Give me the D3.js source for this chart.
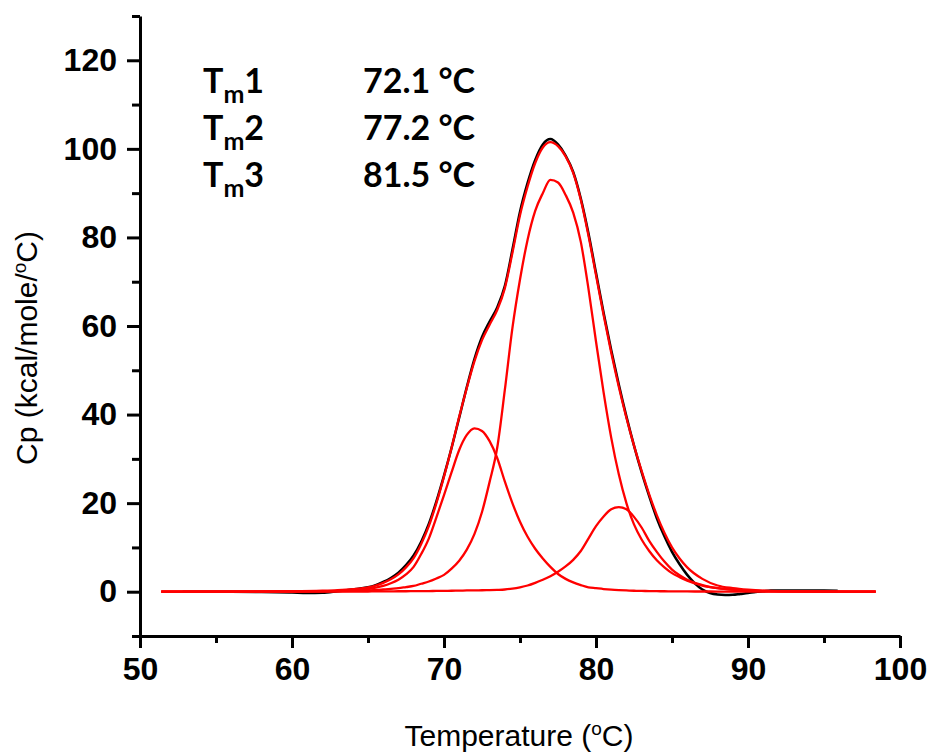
<!DOCTYPE html>
<html>
<head>
<meta charset="utf-8">
<script src="https://cdn.jsdelivr.net/npm/d3@7"></script>
<style>
  body { margin: 0; background: #fff; }
  svg { display: block; }
  .tick text { font-family: "Liberation Sans", Arial, sans-serif; font-weight: bold; font-size: 32px; fill: #000; }
  .axis path, .axis line { stroke: #000; stroke-width: 3; }
</style>
</head>
<body>
<div id="chart"></div>
<script>
// temperature grid shared by the fitted curves (°C)
const fitTemps = [51.4, 56, 60, 62, 63, 64, 65, 65.5, 66, 66.5, 67, 67.5, 68, 68.5, 69, 69.5, 70, 70.5, 71, 71.5,
    72, 72.5, 73, 73.5, 74, 74.5, 75, 75.5, 76, 76.5, 77, 77.5, 78, 78.5, 79, 79.5, 80, 80.5, 81, 81.5,
    82, 82.5, 83, 83.5, 84, 84.5, 85, 85.5, 86, 87, 88, 89, 90, 92, 95, 98.4];

// deconvoluted components (kcal/mole/°C)
const tm1Cp = [0, 0.01, 0.05, 0.12, 0.2, 0.35, 0.6, 0.9, 1.3, 1.9, 2.7, 3.9, 5.6, 8.5, 12.0, 16.8, 21.8, 27.0, 32.0, 35.4,
    36.9, 36.3, 34.0, 30.2, 24.9, 20.0, 15.8, 12.4, 9.7, 7.5, 5.6, 4.0, 2.9, 2.1, 1.5, 1.0, 0.8, 0.6, 0.45, 0.35,
    0.28, 0.22, 0.18, 0.15, 0.12, 0.1, 0.09, 0.08, 0.06, 0.05, 0.04, 0.03, 0.02, 0.01, 0.005, 0];
const tm2Cp = [0, 0.01, 0.05, 0.1, 0.13, 0.2, 0.3, 0.4, 0.5, 0.65, 0.8, 1.05, 1.3, 1.8, 2.3, 3.0, 3.8, 5.2, 7.0, 9.5,
    13.0, 18.0, 24.8, 32.5, 45.5, 59.5, 70.5, 79.5, 86.0, 90.0, 93.0, 92.4, 89.6, 85.6, 79.0, 68.5, 56.5, 45.0, 34.8, 26.5,
    20.0, 15.2, 11.8, 9.2, 7.1, 5.5, 4.2, 3.3, 2.5, 1.4, 0.8, 0.45, 0.25, 0.1, 0.04, 0];
const tm3Cp = [0, 0, 0.01, 0.02, 0.02, 0.03, 0.05, 0.06, 0.07, 0.08, 0.1, 0.1, 0.12, 0.13, 0.15, 0.17, 0.2, 0.22, 0.25, 0.28,
    0.3, 0.33, 0.37, 0.42, 0.5, 0.7, 1.0, 1.4, 2.0, 2.7, 3.5, 4.5, 5.7, 7.2, 9.2, 12.0, 14.8, 17.0, 18.6, 19.1,
    18.6, 16.9, 14.5, 11.5, 9.0, 6.8, 5.0, 3.7, 2.7, 1.5, 0.8, 0.45, 0.25, 0.1, 0.03, 0];
// total fit
const fitCp = [0, 0.03, 0.11, 0.24, 0.37, 0.6, 1.0, 1.4, 2.0, 2.8, 3.9, 5.5, 7.6, 10.8, 14.8, 20.0, 26.0, 32.5, 39.5, 46.0,
    52.0, 56.8, 60.3, 63.6, 68.5, 76.5, 85.0, 91.5, 96.8, 100.3, 101.5, 100.6, 98.3, 94.6, 88.5, 80.5, 71.5, 62.5, 54.0, 46.3,
    39.3, 33.0, 27.3, 22.0, 17.3, 13.3, 10.0, 7.5, 5.5, 2.9, 1.4, 0.8, 0.45, 0.15, 0.05, 0];

// measured thermogram
const expTemps = [52.8, 56, 58, 60, 61, 62, 63, 64, 65, 65.5, 66, 66.5, 67, 67.5, 68, 68.5, 69, 69.5, 70, 70.5,
    71, 71.5, 72, 72.5, 73, 73.5, 74, 74.5, 75, 75.5, 76, 76.5, 77, 77.5, 78, 78.5, 79, 79.5, 80, 80.5,
    81, 81.5, 82, 82.5, 83, 83.5, 84, 84.5, 85, 85.5, 86, 86.5, 87, 87.5, 88, 88.5, 89, 89.5, 90, 90.5,
    91, 91.5, 92, 93, 94, 95, 95.9];
const expCp = [0, 0, -0.05, -0.2, -0.3, -0.25, 0.1, 0.5, 1.0, 1.5, 2.2, 3.1, 4.3, 6.0, 8.2, 11.3, 15.3, 20.4, 26.2, 32.5,
    39.3, 46.2, 52.5, 57.5, 61.0, 64.2, 69.0, 77.2, 85.8, 92.3, 97.5, 101.0, 102.2, 101.0, 98.5, 94.8, 88.8, 81.0, 72.0, 63.0,
    54.6, 46.8, 39.6, 33.0, 27.0, 21.6, 16.6, 12.5, 9.0, 6.2, 3.8, 1.9, 0.5, -0.3, -0.65, -0.75, -0.7, -0.5, -0.3, -0.05,
    0.1, 0.25, 0.3, 0.3, 0.3, 0.25, 0.2];

const xMajor = [50, 60, 70, 80, 90, 100];
const xMinor = [55, 65, 75, 85, 95];
const yMajor = [0, 20, 40, 60, 80, 100, 120];
const yMinor = [-10, 10, 30, 50, 70, 90, 110, 130];

const tmIndex = ["1", "2", "3"];
const tmValues = ["72.1 °C", "77.2 °C", "81.5 °C"];

const width = 934, height = 755;

const svg = d3.select("#chart")
    .append("svg")
    .attr("width", width)
    .attr("height", height);

const x = d3.scaleLinear().domain([50, 100]).range([140, 900]);
const y = d3.scaleLinear().domain([-10, 130]).range([636, 16]);

// minor ticks
svg.append("g")
    .attr("class", "axis")
    .attr("transform", `translate(140,0)`)
    .call(d3.axisLeft(y).tickValues(yMinor).tickSize(8).tickFormat(""))
    .call(g => g.select(".domain").remove());

svg.append("g")
    .attr("class", "axis")
    .attr("transform", `translate(0,636)`)
    .call(d3.axisBottom(x).tickValues(xMinor).tickSize(7).tickFormat(""))
    .call(g => g.select(".domain").remove());

// major ticks + axis lines
svg.append("g")
    .attr("class", "axis")
    .attr("transform", `translate(140,0)`)
    .call(d3.axisLeft(y).tickValues(yMajor).tickSize(13).tickSizeOuter(0).tickPadding(10));

svg.append("g")
    .attr("class", "axis")
    .attr("transform", `translate(0,636)`)
    .call(d3.axisBottom(x).tickValues(xMajor).tickSize(12).tickSizeOuter(0).tickPadding(9));

// axis titles
svg.append("text")
    .attr("x", 519)
    .attr("y", 746)
    .attr("text-anchor", "middle")
    .style("font-family", "'Liberation Sans', Arial, sans-serif")
    .style("font-size", "30px")
    .call(t => {
        t.append("tspan").text("Temperature (");
        t.append("tspan").attr("dy", -11).style("font-size", "19px").text("o");
        t.append("tspan").attr("dy", 11).text("C)");
    });

svg.append("text")
    .attr("transform", "translate(37,348) rotate(-90)")
    .attr("text-anchor", "middle")
    .style("font-family", "'Liberation Sans', Arial, sans-serif")
    .style("font-size", "30px")
    .call(t => {
        t.append("tspan").text("Cp (kcal/mole/");
        t.append("tspan").attr("dy", -11).style("font-size", "19px").text("o");
        t.append("tspan").attr("dy", 11).text("C)");
    });

const line = d3.line()
    .x(d => x(d[0]))
    .y(d => y(d[1]))
    .curve(d3.curveMonotoneX);

// experimental curve underneath the fits
svg.append("path")
    .datum(d3.zip(expTemps, expCp))
    .attr("fill", "none")
    .attr("stroke", "#000")
    .attr("stroke-width", 2.5)
    .attr("d", line);

[tm1Cp, tm2Cp, tm3Cp, fitCp].forEach(series => {
    svg.append("path")
        .datum(d3.zip(fitTemps, series))
        .attr("fill", "none")
        .attr("stroke", "#ff0000")
        .attr("stroke-width", 2.3)
        .attr("d", line);
});

// Tm annotations
const rowY = [92.7, 140, 186.7];
tmIndex.forEach((n, i) => {
    const t = svg.append("text")
        .attr("x", 203)
        .attr("y", rowY[i])
        .style("font-family", "Lato, 'Open Sans', sans-serif")
        .style("font-weight", "bold")
        .style("font-size", "34px");
    t.append("tspan").text("T");
    t.append("tspan").attr("dy", 10).style("font-size", "25px").text("m");
    t.append("tspan").attr("dy", -10).text(n);

    svg.append("text")
        .attr("x", 363)
        .attr("y", rowY[i])
        .style("font-family", "Lato, 'Open Sans', sans-serif")
        .style("font-weight", "bold")
        .style("font-size", "34px")
        .text(tmValues[i]);
});
</script>
</body>
</html>
